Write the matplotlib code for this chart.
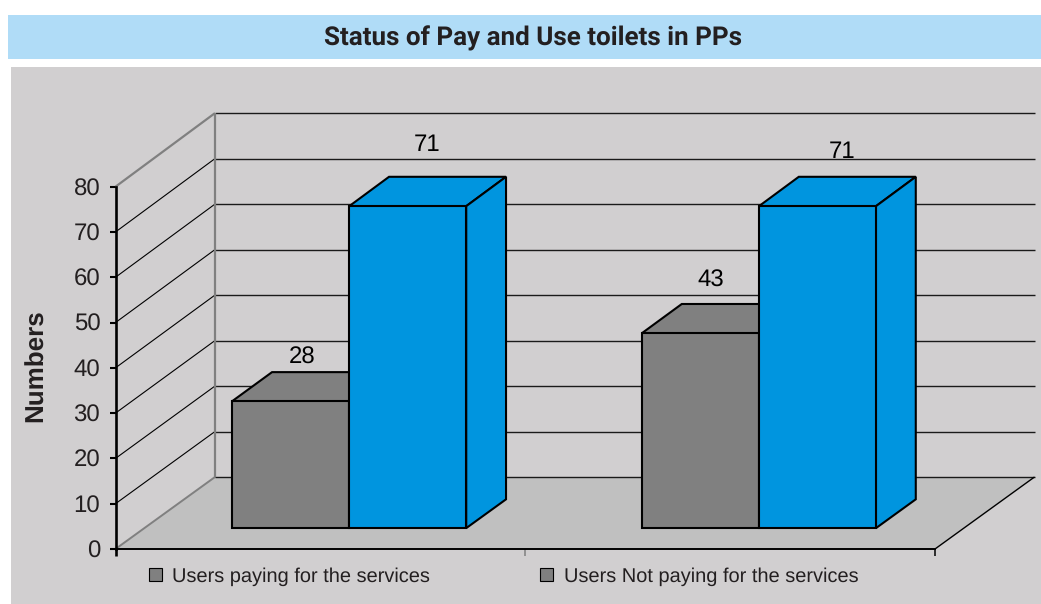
import matplotlib
matplotlib.use("Agg")
import matplotlib.pyplot as plt
from matplotlib.patches import Polygon, Rectangle, Patch

plt.rcParams['font.family'] = ['Liberation Sans', 'DejaVu Sans']
plt.rcParams['text.hinting'] = 'no_hinting'
plt.rcParams['text.hinting_factor'] = 1

TITLE = "Status of Pay and Use toilets in PPs"
Y_LABEL = "Numbers"
SERIES = ["Users paying for the services", "Users Not paying for the services"]
GROUP_POS = [0.5, 1.5]
PAYING = [28, 43]
NOT_PAYING = [71, 71]
Y_TICKS = list(range(0, 90, 10))

W, H = 1041, 604
INK = "#231f20"
GREY = "#808080"
BLUE = "#0095df"

fig = plt.figure(figsize=(W / 100, H / 100), dpi=100, facecolor="white")


def px_rect(x0, y0, x1, y1, color):
    fig.add_artist(Rectangle((x0 / W, 1 - y1 / H), (x1 - x0) / W, (y1 - y0) / H,
                             transform=fig.transFigure, facecolor=color,
                             edgecolor="none", zorder=-5))


px_rect(8, 15, W, 59, "#b0dcf7")
px_rect(11, 67, W, 604, "#d1cfd0")

L, R, T, B = 115.5, 935.0, 186.7, 549.0
ax = fig.add_axes([L / W, 1 - B / H, (R - L) / W, (B - T) / H])
ax.patch.set_visible(False)
ax.set_xlim(0, 2)
ax.set_ylim(0, 80)
X_PX = (R - L) / 2
Y_PX = (B - T) / 80
DX = 99.5 / X_PX
DY = 72.0 / Y_PX
DY_SLOPE = 1.6 / Y_PX / 80


def proj(x, y, d):
    return (x + d * DX, y + d * (DY + y * DY_SLOPE))


def face(pts, fc, ec="black", lw=1.5, z=3):
    ax.add_patch(Polygon(pts, closed=True, facecolor=fc, edgecolor=ec, linewidth=lw,
                         joinstyle="miter", clip_on=False, zorder=z))


def seg(a, b, color, lw, z=2):
    ax.plot([a[0], b[0]], [a[1], b[1]], color=color, lw=lw, clip_on=False, zorder=z,
            solid_capstyle="butt")


# floor
ax.add_patch(Polygon([proj(0, 0, 0), proj(2, 0, 0), proj(2, 0, 1), proj(0, 0, 1)],
                     closed=True, facecolor="#c0c0c0", edgecolor="none",
                     clip_on=False, zorder=1))

# walls and grid
for v in Y_TICKS:
    a, b, c = proj(0, v, 0), proj(0, v, 1), proj(2, v, 1)
    if v == 0:
        seg(a, b, GREY, 1.4)
    elif v == Y_TICKS[-1]:
        seg(a, b, GREY, 1.6)
    else:
        seg(a, b, "black", 0.8)
    seg(b, c, "#1a1a1a", 1.0)
seg(proj(0, 0, 1), proj(0, 80, 1), GREY, 1.6, 2.2)
seg(proj(2, 0, 0), proj(2, 0, 1), "black", 1.0)

# bars
BAR_W = 117.0 / X_PX
D0, D1 = 0.29, 0.69


def bar3d(x0, x1, v, color):
    base = 0
    face([proj(x0, v, D0), proj(x1, v, D0), proj(x1, v, D1), proj(x0, v, D1)], color)
    face([proj(x1, base, D0), proj(x1, v, D0), proj(x1, v, D1), proj(x1, base, D1)], color)
    face([proj(x0, base, D0), proj(x1, base, D0), proj(x1, v, D0), proj(x0, v, D0)], color)


for pos, v in zip(GROUP_POS, PAYING):
    bar3d(pos - BAR_W, pos, v, GREY)
for pos, v in zip(GROUP_POS, NOT_PAYING):
    bar3d(pos, pos + BAR_W, v, BLUE)

# value labels: (px right of bar face centre, px above bar front top)
offs_paying = [(11.5, 32), (10, 41)]
offs_not = [(19.5, 50), (25, 43)]
for vals, sign, offs in ((PAYING, -0.5, offs_paying), (NOT_PAYING, 0.5, offs_not)):
    for pos, v, (ox, oy) in zip(GROUP_POS, vals, offs):
        ax.annotate(str(v), proj(pos + sign * BAR_W, v, D0),
                    xytext=(ox * 0.72, oy * 0.72), textcoords="offset points",
                    ha="center", va="bottom", fontsize=17.5, color="black",
                    annotation_clip=False, zorder=6)

# axes furniture
for s in ("top", "right"):
    ax.spines[s].set_visible(False)
ax.spines["left"].set_linewidth(1.9)
ax.spines["bottom"].set_linewidth(1.4)
ax.spines["left"].set_zorder(5)
ax.spines["bottom"].set_zorder(5)
ax.set_yticks(Y_TICKS)
ax.set_yticklabels([str(v) for v in Y_TICKS], fontsize=17.5, color=INK)
ax.tick_params(axis="y", length=4.5, width=1.5, pad=6.5, color="black")
ax.set_xticks([0, 1, 2])
ax.set_xticklabels([])
ax.tick_params(axis="x", length=5, width=1.1, color="black")
ax.xaxis.get_major_ticks()[0].tick1line.set_markeredgewidth(1.9)
ax.xaxis.get_major_ticks()[1].tick1line.set_markeredgecolor(GREY)

fig.text(533 / W, 1 - 38 / H, TITLE, ha="center", va="center", fontsize=18.4,
         fontweight="bold", color=INK, family=["Roboto", "Liberation Sans"])
fig.text(36 / W, 1 - 366 / H, Y_LABEL, rotation=90, ha="center", va="center",
         fontsize=19, fontweight="bold", color=INK)

handles = [Patch(facecolor=GREY, edgecolor="black", linewidth=0.8, label=s) for s in SERIES]
leg = fig.legend(handles=handles, ncol=2, frameon=False, loc="center left",
                 bbox_to_anchor=(149 / W, 1 - 576.5 / H), borderaxespad=0, borderpad=0,
                 fontsize=14.7, handlelength=0.64, handleheight=0.62, handletextpad=0.5,
                 columnspacing=5.4, labelcolor=INK)

fig.savefig("out.png", dpi=100, facecolor="white")
